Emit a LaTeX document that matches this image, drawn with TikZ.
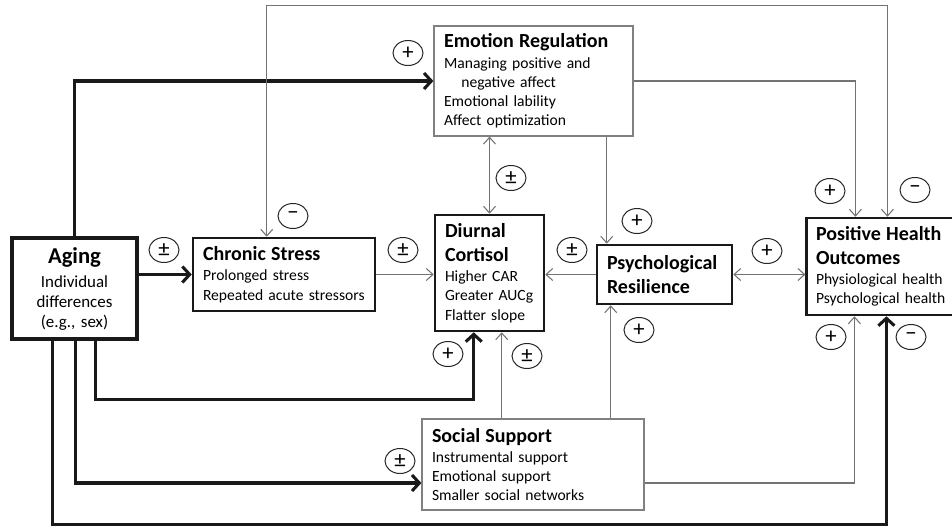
\documentclass[tikz,border=0pt]{standalone}
\usepackage{fontspec}
\setmainfont{Carlito}
\usepackage{tikz}
\usetikzlibrary{arrows.meta,calc,shapes.geometric}

\newcommand{\boxhead}[1]{{\fontsize{15}{17}\selectfont\bfseries #1}}

\begin{document}
\begin{tikzpicture}[x=0.75pt, y=-0.75pt,
  bx/.style={rectangle, draw=black!90, line width=1.9pt, fill=white, align=left, inner xsep=7.5pt, inner ysep=0pt, font=\fontsize{11.7}{14.4}\selectfont},
  lbx/.style={bx, draw=black!50, line width=0.9pt},
  thk/.style={line width=2.3pt, draw=black!90, -{Straight Barb[length=5.5pt,width=12pt]}},
  thn/.style={line width=0.8pt, draw=black!55, -{Straight Barb[length=5pt,width=9pt]}},
  lb/.style={ellipse, draw=black!85, line width=0.75pt, minimum width=30*0.75pt, minimum height=25*0.75pt, inner sep=0pt, font=\fontsize{17}{17}\selectfont}]
\useasboundingbox (0,0) rectangle (952,525);

\node[bx, line width=2.4pt, align=center, inner xsep=0pt, text width=125*0.75pt, minimum height=101*0.75pt, font=\fontsize{12.7}{15}\selectfont] (aging) at (74.5,288.5)
  {{\fontsize{17}{19}\selectfont\bfseries Aging}\\[3pt] Individual\\ differences\\ (e.g., sex)};
\node[bx, text width=162*0.75pt, minimum height=73*0.75pt] (cs) at (284,274.5)
  {\boxhead{Chronic Stress}\\[1pt] Prolonged stress\\ Repeated acute stressors};
\node[lbx, text width=179*0.75pt, minimum height=110*0.75pt] (emo) at (533.5,81)
  {\boxhead{Emotion Regulation}\\[1pt] Managing positive and\\ \hspace*{13pt}negative affect\\ Emotional lability\\ Affect optimization};
\node[bx, text width=89*0.75pt, minimum height=116*0.75pt] (cort) at (489.5,273)
  {\boxhead{Diurnal}\\[3.5pt] \boxhead{Cortisol}\\[1pt] Higher CAR\\ Greater AUCg\\ Flatter slope};
\node[bx, text width=115*0.75pt, minimum height=59*0.75pt] (psy) at (664.5,274.5)
  {\boxhead{Psychological}\\[3.5pt] \boxhead{Resilience}};
\node[bx, inner xsep=7pt, text width=130*0.75pt, minimum height=97*0.75pt] (pho) at (881,266.5)
  {\boxhead{Positive Health}\\[3.5pt] \boxhead{Outcomes}\\[1pt] Physiological health\\ Psychological health};
\node[lbx, text width=202*0.75pt, minimum height=91*0.75pt] (ss) at (533,464.5)
  {\boxhead{Social Support}\\[1pt] Instrumental support\\ Emotional support\\ Smaller social networks};

\coordinate (agA) at ($(aging.south west)+(85,0)$);
\coordinate (agB) at ($(aging.south west)+(65,0)$);
\coordinate (agC) at ($(aging.south west)+(42,0)$);
\coordinate (csT) at ($(cs.north west)+(75,0)$);
\coordinate (cortT) at ($(cort.south west)+(40,0)$);
\coordinate (cortS) at ($(cort.south west)+(68,0)$);
\coordinate (psyN) at ($(psy.north west)+(11,0)$);
\coordinate (psyS) at ($(psy.south west)+(15,0)$);
\coordinate (phoA) at ($(pho.south west)+(49,0)$);
\coordinate (phoB) at ($(pho.south west)+(81,0)$);
\coordinate (phoC) at ($(pho.north west)+(50,0)$);
\coordinate (phoD) at ($(pho.north west)+(82,0)$);

\draw[thk] (aging.north) |- (emo.west);
\draw[thk] (aging.east |- cs.west) -- (cs.west);
\draw[thk] (agA) -- ++(0,59) -| (cortT);
\draw[thk] (agB) |- ($(ss.west)+(0,18.5)$);
\draw[thk] (agC) -- ++(0,184) -| (phoB);
\draw[thn] (cs.east) -- (cs.east -| cort.west);
\draw[thn] (psy.west) -- (psy.west -| cort.east);
\draw[thn, {Straight Barb[length=5pt,width=9pt]}-{Straight Barb[length=5pt,width=9pt]}] (psy.east) -- (psy.east -| pho.west);
\draw[thn, {Straight Barb[length=5pt,width=9pt]}-{Straight Barb[length=5pt,width=9pt]}] (cort.north) -- (cort.north |- emo.south);
\draw[thn] (psyN |- emo.south) -- (psyN);
\draw[thn] (psyS |- ss.north) -- (psyS);
\draw[thn] (cortS |- ss.north) -- (cortS);
\draw[thn] ($(ss.east)+(0,18.5)$) -| (phoA);
\draw[thn] (emo.east) -| (phoC);
\draw[thn, {Straight Barb[length=5pt,width=9pt]}-{Straight Barb[length=5pt,width=9pt]}] (csT) -- ++(0,-231) -| (phoD);

\node[lb] (l1) at (164,250) {±};
\node[lb] (l2) at (408,53) {+};
\node[lb] (l3) at (293,216) {−};
\node[lb] (l4) at (511,178) {±};
\node[lb] (l5) at (403,250) {±};
\node[lb] (l6) at (572,250) {±};
\node[lb] (l7) at (637,221) {+};
\node[lb] (l8) at (767,251) {+};
\node[lb] (l9) at (830,191) {+};
\node[lb] (l10) at (915,190) {−};
\node[lb] (l11) at (448,354) {+};
\node[lb] (l12) at (527,356) {±};
\node[lb] (l13) at (639,330) {+};
\node[lb] (l14) at (400,461) {±};
\node[lb] (l15) at (831,337) {+};
\node[lb] (l16) at (911,337) {−};
\end{tikzpicture}
\end{document}
